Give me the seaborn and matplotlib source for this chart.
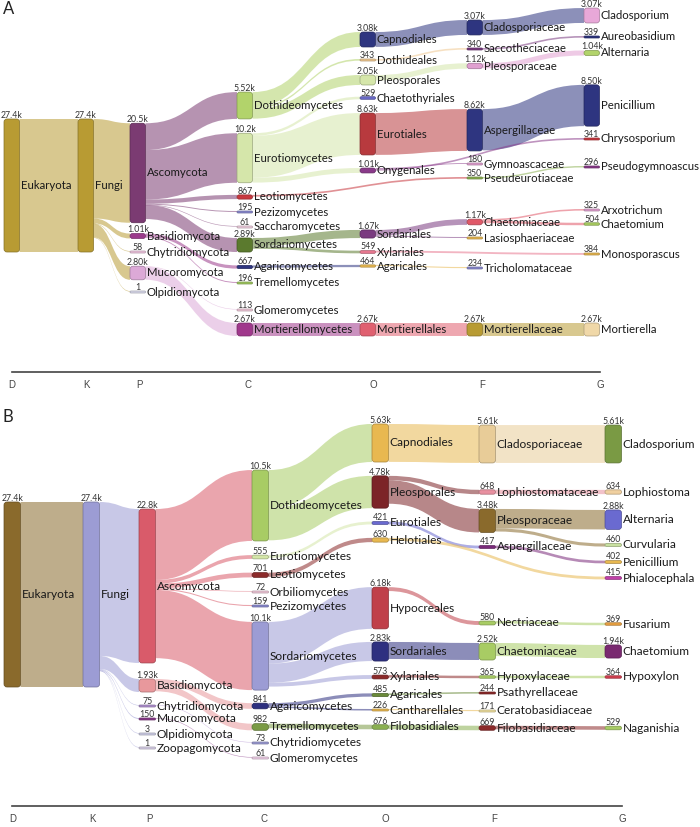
import numpy as np
import matplotlib
matplotlib.use("Agg")
import matplotlib.pyplot as plt
import seaborn as sns
from matplotlib.path import Path
from matplotlib.patches import PathPatch, FancyBboxPatch
from matplotlib.colors import to_rgb

ranks = ["D", "K", "P", "C", "O", "F", "G"]

# ---- panel A data ----
a_nodes = ["Eukaryota", "Fungi",
           "Ascomycota", "Basidiomycota", "Chytridiomycota", "Mucoromycota", "Olpidiomycota",
           "Dothideomycetes", "Eurotiomycetes", "Leotiomycetes", "Pezizomycetes", "Saccharomycetes",
           "Sordariomycetes", "Agaricomycetes", "Tremellomycetes", "Glomeromycetes", "Mortierellomycetes",
           "Capnodiales", "Dothideales", "Pleosporales", "Chaetothyriales", "Eurotiales", "Onygenales",
           "Sordariales", "Xylariales", "Agaricales", "Mortierellales",
           "Cladosporiaceae", "Saccotheciaceae", "Pleosporaceae", "Aspergillaceae", "Gymnoascaceae",
           "Pseudeurotiaceae", "Chaetomiaceae", "Lasiosphaeriaceae", "Tricholomataceae", "Mortierellaceae",
           "Cladosporium", "Aureobasidium", "Alternaria", "Penicillium", "Chrysosporium",
           "Pseudogymnoascus", "Arxotrichum", "Chaetomium", "Monosporascus", "Mortierella"]
a_rank = [0, 1] + [2] * 5 + [3] * 10 + [4] * 10 + [5] * 10 + [6] * 10
a_values = [27400, 27400,
            20500, 1010, 58, 2800, 1,
            5520, 10200, 867, 195, 61, 2890, 667, 196, 113, 2670,
            3080, 343, 2050, 529, 8630, 1010, 1670, 549, 464, 2670,
            3070, 340, 1120, 8620, 180, 350, 1170, 204, 234, 2670,
            3070, 339, 1040, 8500, 341, 296, 325, 504, 384, 2670]

a_src = ["Eukaryota", "Fungi", "Fungi", "Fungi", "Fungi", "Fungi",
         "Ascomycota", "Ascomycota", "Ascomycota", "Ascomycota", "Ascomycota", "Ascomycota",
         "Basidiomycota", "Basidiomycota", "Mucoromycota", "Mucoromycota",
         "Dothideomycetes", "Dothideomycetes", "Dothideomycetes",
         "Eurotiomycetes", "Eurotiomycetes", "Eurotiomycetes",
         "Sordariomycetes", "Sordariomycetes", "Agaricomycetes", "Mortierellomycetes",
         "Capnodiales", "Dothideales", "Pleosporales", "Eurotiales", "Onygenales", "Leotiomycetes",
         "Sordariales", "Sordariales", "Agaricales", "Mortierellales",
         "Cladosporiaceae", "Saccotheciaceae", "Pleosporaceae", "Aspergillaceae", "Onygenales",
         "Pseudeurotiaceae", "Chaetomiaceae", "Chaetomiaceae", "Xylariales", "Mortierellaceae"]
a_tgt = ["Fungi", "Ascomycota", "Basidiomycota", "Chytridiomycota", "Mucoromycota", "Olpidiomycota",
         "Dothideomycetes", "Eurotiomycetes", "Leotiomycetes", "Pezizomycetes", "Saccharomycetes",
         "Sordariomycetes", "Agaricomycetes", "Tremellomycetes", "Glomeromycetes", "Mortierellomycetes",
         "Capnodiales", "Dothideales", "Pleosporales",
         "Chaetothyriales", "Eurotiales", "Onygenales",
         "Sordariales", "Xylariales", "Agaricales", "Mortierellales",
         "Cladosporiaceae", "Saccotheciaceae", "Pleosporaceae", "Aspergillaceae", "Gymnoascaceae",
         "Pseudeurotiaceae", "Chaetomiaceae", "Lasiosphaeriaceae", "Tricholomataceae", "Mortierellaceae",
         "Cladosporium", "Aureobasidium", "Alternaria", "Penicillium", "Chrysosporium",
         "Pseudogymnoascus", "Arxotrichum", "Chaetomium", "Monosporascus", "Mortierella"]
a_link_values = [27400, 20500, 1010, 58, 2800, 1,
                 5520, 10200, 867, 195, 61, 2890,
                 667, 196, 113, 2670,
                 3080, 343, 2050, 529, 8630, 1010,
                 1670, 549, 464, 2670,
                 3070, 340, 1120, 8620, 180, 350, 1170, 204, 234, 2670,
                 3070, 339, 1040, 8500, 341, 296, 325, 504, 384, 2670]

# ---- panel B data ----
b_nodes = ["Eukaryota", "Fungi",
           "Ascomycota", "Basidiomycota", "Chytridiomycota", "Mucoromycota", "Olpidiomycota", "Zoopagomycota",
           "Dothideomycetes", "Eurotiomycetes", "Leotiomycetes", "Orbiliomycetes", "Pezizomycetes",
           "Sordariomycetes", "Agaricomycetes", "Tremellomycetes", "Chytridiomycetes", "Glomeromycetes",
           "Capnodiales", "Pleosporales", "Eurotiales", "Helotiales", "Hypocreales", "Sordariales",
           "Xylariales", "Agaricales", "Cantharellales", "Filobasidiales",
           "Cladosporiaceae", "Lophiostomataceae", "Pleosporaceae", "Aspergillaceae", "Nectriaceae",
           "Chaetomiaceae", "Hypoxylaceae", "Psathyrellaceae", "Ceratobasidiaceae", "Filobasidiaceae",
           "Cladosporium", "Lophiostoma", "Alternaria", "Curvularia", "Penicillium", "Phialocephala",
           "Fusarium", "Chaetomium", "Hypoxylon", "Naganishia"]
b_rank = [0, 1] + [2] * 6 + [3] * 10 + [4] * 10 + [5] * 10 + [6] * 10
b_values = [27400, 27400,
            22800, 1930, 75, 150, 3, 1,
            10500, 555, 701, 72, 159, 10100, 841, 982, 73, 61,
            5630, 4780, 421, 630, 6180, 2830, 573, 485, 226, 676,
            5610, 648, 3480, 417, 580, 2520, 365, 244, 171, 669,
            5610, 634, 2880, 460, 402, 415, 369, 1940, 364, 529]

b_src = ["Eukaryota", "Fungi", "Fungi", "Fungi", "Fungi", "Fungi", "Fungi",
         "Ascomycota", "Ascomycota", "Ascomycota", "Ascomycota", "Ascomycota", "Ascomycota",
         "Basidiomycota", "Basidiomycota", "Chytridiomycota", "Mucoromycota",
         "Dothideomycetes", "Dothideomycetes", "Eurotiomycetes", "Leotiomycetes",
         "Sordariomycetes", "Sordariomycetes", "Sordariomycetes",
         "Agaricomycetes", "Agaricomycetes", "Tremellomycetes",
         "Capnodiales", "Pleosporales", "Pleosporales", "Eurotiales", "Hypocreales", "Sordariales",
         "Xylariales", "Agaricales", "Cantharellales", "Filobasidiales",
         "Cladosporiaceae", "Lophiostomataceae", "Pleosporaceae", "Pleosporaceae", "Aspergillaceae",
         "Helotiales", "Nectriaceae", "Chaetomiaceae", "Hypoxylaceae", "Filobasidiaceae"]
b_tgt = ["Fungi", "Ascomycota", "Basidiomycota", "Chytridiomycota", "Mucoromycota", "Olpidiomycota",
         "Zoopagomycota",
         "Dothideomycetes", "Eurotiomycetes", "Leotiomycetes", "Orbiliomycetes", "Pezizomycetes",
         "Sordariomycetes", "Agaricomycetes", "Tremellomycetes", "Chytridiomycetes", "Glomeromycetes",
         "Capnodiales", "Pleosporales", "Eurotiales", "Helotiales",
         "Hypocreales", "Sordariales", "Xylariales",
         "Agaricales", "Cantharellales", "Filobasidiales",
         "Cladosporiaceae", "Lophiostomataceae", "Pleosporaceae", "Aspergillaceae", "Nectriaceae",
         "Chaetomiaceae", "Hypoxylaceae", "Psathyrellaceae", "Ceratobasidiaceae", "Filobasidiaceae",
         "Cladosporium", "Lophiostoma", "Alternaria", "Curvularia", "Penicillium",
         "Phialocephala", "Fusarium", "Chaetomium", "Hypoxylon", "Naganishia"]
b_link_values = [27400, 22800, 1930, 75, 150, 3, 1,
                 10500, 555, 701, 72, 159, 10100,
                 841, 982, 73, 61,
                 5630, 4780, 421, 630, 6180, 2830, 573, 485, 226, 676,
                 5610, 648, 3480, 417, 580, 2520, 365, 244, 171, 669,
                 5610, 634, 2880, 460, 402, 415, 369, 1940, 364, 529]

# ---- layout (pixel space): node centre rows, column left edges ----
a_ymid = {"Eukaryota": 185.5, "Fungi": 185.5,
          "Ascomycota": 173, "Basidiomycota": 236, "Chytridiomycota": 252, "Mucoromycota": 273,
          "Olpidiomycota": 292,
          "Dothideomycetes": 105.5, "Eurotiomycetes": 158, "Leotiomycetes": 197, "Pezizomycetes": 212,
          "Saccharomycetes": 227, "Sordariomycetes": 245, "Agaricomycetes": 267, "Tremellomycetes": 283,
          "Glomeromycetes": 310, "Mortierellomycetes": 329.5,
          "Capnodiales": 39.5, "Dothideales": 60, "Pleosporales": 80, "Chaetothyriales": 98,
          "Eurotiales": 134, "Onygenales": 170.5, "Sordariales": 234, "Xylariales": 252,
          "Agaricales": 266, "Mortierellales": 329.5,
          "Cladosporiaceae": 27.5, "Saccotheciaceae": 49, "Pleosporaceae": 66, "Aspergillaceae": 130,
          "Gymnoascaceae": 164, "Pseudeurotiaceae": 178, "Chaetomiaceae": 222, "Lasiosphaeriaceae": 238,
          "Tricholomataceae": 268, "Mortierellaceae": 329.5,
          "Cladosporium": 15.5, "Aureobasidium": 37, "Alternaria": 53, "Penicillium": 105.5,
          "Chrysosporium": 139, "Pseudogymnoascus": 167, "Arxotrichum": 210, "Chaetomium": 224,
          "Monosporascus": 254, "Mortierella": 329.5}
b_ymid = {"Eukaryota": 594.5, "Fungi": 594.5,
          "Ascomycota": 586, "Basidiomycota": 685.5, "Chytridiomycota": 706, "Mucoromycota": 719,
          "Olpidiomycota": 734, "Zoopagomycota": 748,
          "Dothideomycetes": 505.5, "Eurotiomycetes": 557, "Leotiomycetes": 575, "Orbiliomycetes": 592,
          "Pezizomycetes": 606, "Sordariomycetes": 656, "Agaricomycetes": 706, "Tremellomycetes": 727,
          "Chytridiomycetes": 743, "Glomeromycetes": 758,
          "Capnodiales": 443, "Pleosporales": 492, "Eurotiales": 523, "Helotiales": 540,
          "Hypocreales": 608, "Sordariales": 651.5, "Xylariales": 677, "Agaricales": 695,
          "Cantharellales": 710, "Filobasidiales": 727,
          "Cladosporiaceae": 444, "Lophiostomataceae": 492, "Pleosporaceae": 520.7, "Aspergillaceae": 547,
          "Nectriaceae": 623, "Chaetomiaceae": 651.5, "Hypoxylaceae": 677, "Psathyrellaceae": 693,
          "Ceratobasidiaceae": 711, "Filobasidiaceae": 728,
          "Cladosporium": 444, "Lophiostoma": 492, "Alternaria": 519.7, "Curvularia": 545,
          "Penicillium": 562, "Phialocephala": 578, "Fusarium": 624, "Chaetomium": 651.5,
          "Hypoxylon": 677, "Naganishia": 728}
a_xleft = [4, 78, 130, 237, 360, 467, 584]
b_xleft = [4, 83, 139, 252, 372, 479, 605]

a_colors = {
    "Eukaryota": "#b89b33", "Fungi": "#b89b33", "Ascomycota": "#7b3b72",
    "Basidiomycota": "#9b3b8c", "Chytridiomycota": "#efc6df", "Mucoromycota": "#dca9d7",
    "Olpidiomycota": "#dcdcee",
    "Dothideomycetes": "#b2d36b", "Eurotiomycetes": "#d5e6aa", "Leotiomycetes": "#c8383f",
    "Pezizomycetes": "#8a8ad0", "Saccharomycetes": "#f0d0e0", "Sordariomycetes": "#5b7a2e",
    "Agaricomycetes": "#2e3580", "Tremellomycetes": "#a0c860", "Glomeromycetes": "#f0c8d8",
    "Mortierellomycetes": "#a0388c",
    "Capnodiales": "#2e3580", "Dothideales": "#f0c890", "Pleosporales": "#d5e6aa",
    "Chaetothyriales": "#6a6ac8", "Eurotiales": "#b83a3e", "Onygenales": "#8a3a8a",
    "Sordariales": "#7a3a80", "Xylariales": "#e87890", "Agaricales": "#e8b850",
    "Mortierellales": "#e06070",
    "Cladosporiaceae": "#2e3580", "Saccotheciaceae": "#7a3a80", "Pleosporaceae": "#e0a0d0",
    "Aspergillaceae": "#2e3580", "Gymnoascaceae": "#e0a0d0", "Pseudeurotiaceae": "#8ab050",
    "Chaetomiaceae": "#e05868", "Lasiosphaeriaceae": "#e8b850", "Tricholomataceae": "#8a8ad0",
    "Mortierellaceae": "#b89b33",
    "Cladosporium": "#e8a8d8", "Aureobasidium": "#2e3580", "Alternaria": "#b2d36b",
    "Penicillium": "#2e3580", "Chrysosporium": "#c8383f", "Pseudogymnoascus": "#8a3a8a",
    "Arxotrichum": "#e0a0d0", "Chaetomium": "#a8cc60", "Monosporascus": "#e8b850",
    "Mortierella": "#f0d8a8"}
b_colors = {
    "Eukaryota": "#8a6a2c", "Fungi": "#9c9cd4", "Ascomycota": "#d95b6a", "Basidiomycota": "#e8989c",
    "Chytridiomycota": "#b090d0", "Mucoromycota": "#8a3a8a", "Olpidiomycota": "#d0d0e8",
    "Zoopagomycota": "#d8d0e8",
    "Dothideomycetes": "#a8cc64", "Eurotiomycetes": "#d4e6a8", "Leotiomycetes": "#8c2a2a",
    "Orbiliomycetes": "#f0c8d8", "Pezizomycetes": "#8a8ad0", "Sordariomycetes": "#9c9cd4",
    "Agaricomycetes": "#2e3080", "Tremellomycetes": "#7a9a44", "Chytridiomycetes": "#9c9cd4",
    "Glomeromycetes": "#f0d0e8",
    "Capnodiales": "#e8b850", "Pleosporales": "#7c2428", "Eurotiales": "#6a6ad0",
    "Helotiales": "#e8b850", "Hypocreales": "#c0404a", "Sordariales": "#2e3080",
    "Xylariales": "#8c2a2a", "Agaricales": "#6a8a3a", "Cantharellales": "#e8b850",
    "Filobasidiales": "#8ab050",
    "Cladosporiaceae": "#e8cc98", "Lophiostomataceae": "#e890a0", "Pleosporaceae": "#8a6a2c",
    "Aspergillaceae": "#7a2a7a", "Nectriaceae": "#a8cc64", "Chaetomiaceae": "#a8cc64",
    "Hypoxylaceae": "#a8cc64", "Psathyrellaceae": "#8c2a2a", "Ceratobasidiaceae": "#f0e0a0",
    "Filobasidiaceae": "#8c2a2a",
    "Cladosporium": "#7a9a44", "Lophiostoma": "#f0d0a0", "Alternaria": "#6a6ad0",
    "Curvularia": "#c8e0a0", "Penicillium": "#e8b850", "Phialocephala": "#c040a8",
    "Fusarium": "#e8a040", "Chaetomium": "#7a2a70", "Hypoxylon": "#d04050",
    "Naganishia": "#a8cc64"}


def fmt(v):
    if v < 1000:
        return str(v)
    k = v / 1000
    return f"{k:.{2 if k < 10 else 1}f}k"


def draw_sankey(ax, nodes, rank, values, src, tgt, lvals, ymid, xleft, node_w, px_per, colors,
                name_size):
    top, xl = {}, {}
    for n, r, v in zip(nodes, rank, values):
        h = max(v * px_per, 2.0)
        top[n] = ymid[n] - h / 2
        xl[n] = xleft[r]

    # stack links on source (by target row) and on target (by source row)
    links = list(zip(src, tgt, lvals))
    out_off = dict(top)
    in_off = dict(top)
    ys, yt = {}, {}
    for l in sorted(links, key=lambda l: ymid[l[1]]):
        ys[l] = out_off[l[0]]
        out_off[l[0]] += l[2] * px_per
    for l in sorted(links, key=lambda l: ymid[l[0]]):
        yt[l] = in_off[l[1]]
        in_off[l[1]] += l[2] * px_per

    codes = [Path.MOVETO, Path.CURVE4, Path.CURVE4, Path.CURVE4, Path.LINETO,
             Path.CURVE4, Path.CURVE4, Path.CURVE4, Path.CLOSEPOLY]
    for l in links:
        s, t, v = l
        w = max(v * px_per, 0.6)
        x0, x1 = xl[s] + node_w, xl[t]
        xm = (x0 + x1) / 2
        a, b = ys[l], yt[l]
        verts = [(x0, a), (xm, a), (xm, b), (x1, b), (x1, b + w),
                 (xm, b + w), (xm, a + w), (x0, a + w), (x0, a)]
        ax.add_patch(PathPatch(Path(verts, codes), fc=colors[s], ec="none",
                               alpha=0.55, zorder=1, clip_on=False))

    for n, v in zip(nodes, values):
        h = max(v * px_per, 2.0)
        rr = min(3.0, h / 2, node_w / 2)
        c = colors[n]
        ax.add_patch(FancyBboxPatch((xl[n], top[n]), node_w, h,
                                    boxstyle=f"round,pad=0,rounding_size={rr}",
                                    fc=c, ec=np.array(to_rgb(c)) * 0.72, lw=0.5,
                                    zorder=3, clip_on=False))
        ax.text(xl[n] + node_w / 2, top[n] - 1.2, fmt(v), ha="center", va="baseline",
                fontsize=6.3, color="#333333", zorder=5)
        ax.text(xl[n] + node_w + 1.2, ymid[n], n, ha="left", va="center",
                fontsize=name_size, color="#1a1a1a", zorder=5)

    centers = np.array(xleft) + node_w / 2
    ticks = centers[0] + (centers - centers[0]) * 1.015
    ax.set_xticks(ticks)
    ax.set_xticklabels(ranks, fontsize=7, color="#444444", family="Liberation Sans")
    ax.set_yticks([])
    for sp in ["top", "left", "right"]:
        ax.spines[sp].set_visible(False)
    ax.spines["bottom"].set_bounds(ticks[0], ticks[-1])
    ax.spines["bottom"].set_color("#444444")
    ax.spines["bottom"].set_linewidth(1.2)
    ax.tick_params(axis="x", direction="out", length=3.5, width=1.0, color="#444444", pad=2)


sns.set_style("white")
plt.rcParams["font.family"] = ["Lato", "DejaVu Sans"]

fig = plt.figure(figsize=(7, 8.27), dpi=100)
H = 827.0

ax_a = fig.add_axes([0, 1 - 372 / H, 1, 372 / H])
ax_a.set_xlim(0, 700)
ax_a.set_ylim(372, 0)
ax_a.patch.set_alpha(0)
draw_sankey(ax_a, a_nodes, a_rank, a_values, a_src, a_tgt, a_link_values,
            a_ymid, a_xleft, 15.5, 133 / 27400, a_colors, 8.2)
ax_a.text(3, 9, "A", fontsize=12, va="center", ha="left", color="#222222")

ax_b = fig.add_axes([0, 1 - 806 / H, 1, (806 - 395) / H])
ax_b.set_xlim(0, 700)
ax_b.set_ylim(806, 395)
ax_b.patch.set_alpha(0)
draw_sankey(ax_b, b_nodes, b_rank, b_values, b_src, b_tgt, b_link_values,
            b_ymid, b_xleft, 16.5, 185 / 27400, b_colors, 8.6)
ax_b.text(3, 417, "B", fontsize=12, va="center", ha="left", color="#222222")

fig.savefig("out.png", dpi=100)
